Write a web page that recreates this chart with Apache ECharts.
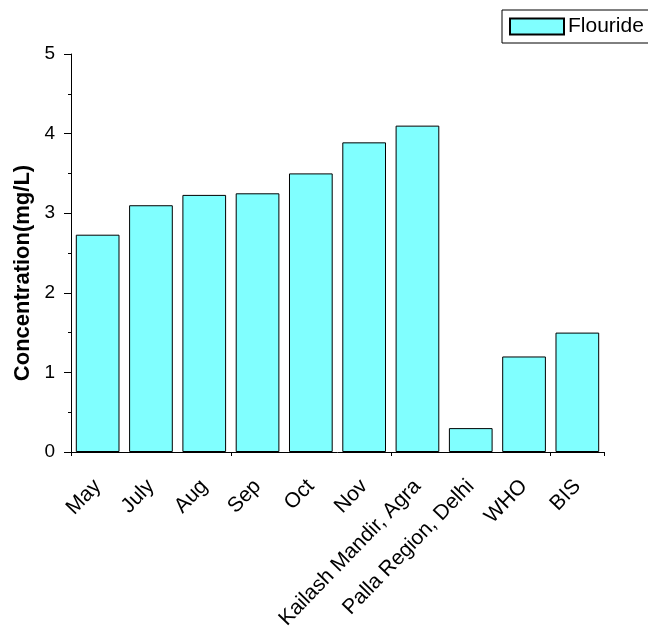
<!DOCTYPE html>
<html>
<head>
<meta charset="utf-8">
<script src="https://cdn.jsdelivr.net/npm/echarts@6/dist/echarts.min.js"></script>
<style>html,body{margin:0;padding:0;background:#fff;}#c{width:648px;height:643px;}</style>
</head>
<body>
<div id="c"></div>
<script>
const categories = ['May', 'July', 'Aug', 'Sep', 'Oct', 'Nov', 'Kailash Mandir, Agra', 'Palla Region, Delhi', 'WHO', 'BIS'];
const flouride = [2.73, 3.1, 3.23, 3.25, 3.5, 3.89, 4.1, 0.3, 1.2, 1.5];
const yTicks = [0, 1, 2, 3, 4, 5];

const FONT = "'Liberation Sans', Arial, sans-serif";
const chart = echarts.init(document.getElementById('c'));
chart.setOption({
  backgroundColor: '#fff',
  animation: false,
  textStyle: { fontFamily: FONT, color: '#000' },
  legend: {
    left: 502, top: 10,
    padding: [6, 12, 6, 7],
    borderColor: '#000', borderWidth: 1,
    itemWidth: 54, itemHeight: 16, itemGap: 4,
    textStyle: { fontFamily: FONT, fontSize: 21, color: '#000', padding: [0, 0, 0, -1] },
    data: [{ name: 'Flouride', icon: 'rect' }]
  },
  grid: { left: 71, right: 44, top: 54, bottom: 191, containLabel: false },
  xAxis: [{
    type: 'category',
    data: categories,
    position: 'bottom',
    axisLine: { lineStyle: { color: '#000', width: 1 } },
    axisTick: { alignWithLabel: true, length: 8, lineStyle: { color: '#000', width: 1 } },
    axisLabel: { rotate: 46, fontSize: 21, color: '#000', fontFamily: FONT, margin: 31, interval: 0 },
    splitLine: { show: false }
  }, {
    type: 'category',
    data: categories,
    position: 'bottom',
    axisLine: { show: false },
    axisTick: { show: true, length: 4, lineStyle: { color: '#000', width: 1 } },
    axisLabel: { show: false },
    splitLine: { show: false }
  }],
  yAxis: {
    type: 'value',
    min: yTicks[0], max: yTicks[yTicks.length - 1], interval: 1,
    name: 'Concentration(mg/L)',
    nameLocation: 'middle',
    nameGap: 36,
    nameTextStyle: { fontSize: 22, fontWeight: 'bold', color: '#000', fontFamily: FONT, padding: [0, 40, 0, 0] },
    axisLine: { show: true, lineStyle: { color: '#000', width: 1 } },
    axisTick: { show: true, length: 7, lineStyle: { color: '#000', width: 1 } },
    minorTick: { show: true, splitNumber: 2, length: 3, lineStyle: { color: '#000', width: 1 } },
    axisLabel: { fontSize: 19, color: '#000', fontFamily: FONT, margin: 16 },
    splitLine: { show: false }
  },
  series: [{
    name: 'Flouride',
    type: 'bar',
    xAxisIndex: 0,
    data: flouride,
    barCategoryGap: '18%',
    itemStyle: { color: '#80FFFF', borderColor: '#000', borderWidth: 1 }
  }]
});
</script>
</body>
</html>
